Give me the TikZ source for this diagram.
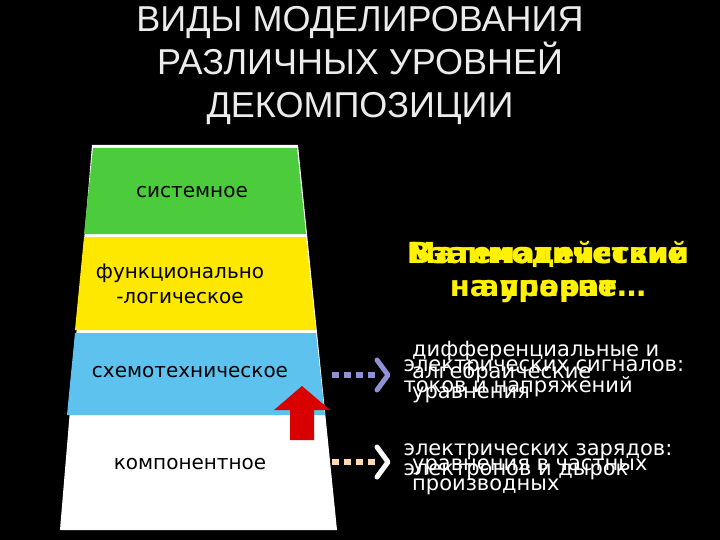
\documentclass[tikz,border=0pt]{standalone}
\usepackage{fontspec}
\setmainfont{DejaVu Sans}
\newfontfamily\titlefont{Liberation Sans}
\usetikzlibrary{arrows.meta}
\definecolor{lgreen}{HTML}{4CCB3C}
\definecolor{lyel}{HTML}{FFE800}
\definecolor{lblue}{HTML}{5EC2EE}
\begin{document}
\begin{tikzpicture}[x=1pt,y=-1pt,
  lay/.style={anchor=center,font=\fontsize{20}{25}\selectfont,align=center},
  yel/.style={font=\bfseries\fontsize{29}{33}\selectfont,text=yellow,align=center,draw=none},
  wt/.style={text=white,font=\fontsize{21}{20}\selectfont,align=left,anchor=north west},
  chev/.style={line width=5pt,line cap=round,line join=round}]
\fill[black] (0,0) rectangle (720,540);
\useasboundingbox (0,0) rectangle (720,540);
\node[text=gray!15,font=\titlefont\fontsize{36}{43}\selectfont,align=center] (title) at (360,66) {ВИДЫ МОДЕЛИРОВАНИЯ\\РАЗЛИЧНЫХ УРОВНЕЙ\\ДЕКОМПОЗИЦИИ};
% pyramid
\fill[white] (92,145) -- (298,145) -- (337,530) -- (60,530) -- cycle;
\fill[lgreen] (93,148) -- (297,148) -- (306,234) -- (84,234) -- cycle;
\fill[lyel] (84,237) -- (306,237) -- (316,330) -- (75,330) -- cycle;
\fill[lblue] (75,333) -- (316,333) -- (325,415) -- (67,415) -- cycle;
\node[lay] (s) at (192,192) {системное};
\node[lay] (f) at (180,284) {функционально\\-логическое};
\node[lay] (c) at (190,372) {схемотехническое};
\node[lay] (k) at (190,464) {компонентное};
% red arrow
\fill[red!85!black] (290,440) -- (290,410) -- (274,410) -- (302,386) -- (330,410) -- (314,410) -- (314,440) -- cycle;
\coordinate (a1s) at (332,375); \coordinate (a1e) at (388,375);
\coordinate (a2s) at (332,462); \coordinate (a2e) at (388,462);
\draw[line width=6pt,dash pattern=on 7pt off 5pt,color=gray!55!blue!60] (a1s) -- ([xshift=-10pt]a1e);
\draw[chev,color=gray!55!blue!60] ([xshift=-11pt,yshift=-15pt]a1e) -- (a1e) -- ([xshift=-11pt,yshift=15pt]a1e);
\draw[line width=6pt,dash pattern=on 7pt off 5pt,color=orange!30!white] (a2s) -- ([xshift=-10pt]a2e);
\draw[chev,color=white] ([xshift=-11pt,yshift=-15pt]a2e) -- (a2e) -- ([xshift=-11pt,yshift=15pt]a2e);
% yellow overlapping headings
\node[yel] (y1) at (548,272) {Математический\\аппарат};
\node[yel] (y2) at (548,272) {Взаимодействие\\на уровне…};
% white texts
\node[wt] (w1) at (402,338) {\ дифференциальные и\\\ алгебраические\\\ уравнения};
\node[wt] (w2) at (400,356) {электрических сигналов:\\токов и напряжений};
\node[wt] (w3) at (400,440) {электрических зарядов:\\электронов и дырок};
\node[wt] (w4) at (402,455) {\ уравнения в частных\\\ производных};
\end{tikzpicture}
\end{document}
